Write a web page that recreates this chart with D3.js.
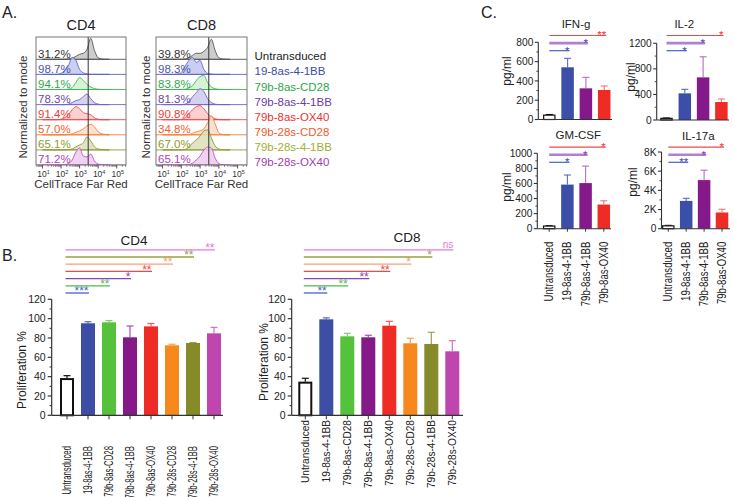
<!DOCTYPE html>
<html><head><meta charset="utf-8">
<script src="https://cdn.jsdelivr.net/npm/d3@7"></script>
<style>
body{margin:0;background:#fff;}
svg{display:block;font-family:"Liberation Sans",Arial,Helvetica,sans-serif;}
</style></head><body>
<svg id="c" width="734" height="497"></svg>
<script>
// ---------------- DATA ----------------
const groups = ["Untransduced","19-8as-4-1BB","79b-8as-CD28","79b-8as-4-1BB","79b-8as-OX40","79b-28s-CD28","79b-28s-4-1BB","79b-28s-OX40"];
// histogram bins (log10 CellTrace Far Red)
const histLog = [1.0,1.2,1.4,1.6,1.8,2.0,2.2,2.4,2.6,2.8,3.0,3.2,3.4,3.6,3.8,4.0,4.2,4.4,4.6];
const gateValue = 2900;
const cd4Hist = [
  [0,0,0,0,0,0,0,0.5,1,3,5,6,10,21,9,1.5,0.3,0,0],
  [0,0,0,0,0,1,4,9,17,14,5,1.5,0.5,0,0,0,0,0,0],
  [0,0,0,0,0,0,0,0.5,2,7,12,9,5,2.5,1,0.3,0,0,0],
  [0,0,0,0,0,0,0,0.5,2,4,5,8,10.5,6,2,0.5,0,0,0],
  [0,0,0,0,0,0.5,2,5,10,13,11,7,6,5,2,0.5,0,0,0],
  [0,0,0,0,0,0,0,0.3,1,2.5,4,6,9,10.5,8,3,1,0.3,0],
  [0,0,0,0,0,0,0,0.3,1,3,5,7,13,9,3,1,0.3,0,0],
  [0,0,0,0,0,0,0.3,1.5,5,13,17,9,8,11,4,1,0.3,0,0]
];
const cd8Hist = [
  [0,0,0,0,0,0,0.3,1.5,4,6,6,8,12,20,9,1.5,0.3,0,0],
  [0,0,0,0,0.3,2,8,14,17,12,14,5,1,0.3,0,0,0,0,0],
  [0,0,0,0,0,0,0.3,1.5,4,9,13,14,7,2.5,0.8,0.2,0,0,0],
  [0,0,0,0,0,0,0.5,3,8,12,16,13,6,2,0.5,0,0,0,0],
  [0,0,0,0,0,0.3,2,6,10,13,14,11,6,3,1,0.2,0,0,0],
  [0,0,0,0,0,0,0,0.3,1.5,3,4,6,12,19,11,2,0.3,0,0],
  [0,0,0,0,0,0,0.5,3,7,10,14,19,20,12,4,1,0.2,0,0],
  [0,0,0,0,0,0,0,0.3,2,5,9,15,18,17,7,1.5,0.2,0,0]
];
const cd4Pct = ["31.2%","98.7%","94.1%","78.3%","91.4%","57.0%","65.1%","71.2%"];
const cd8Pct = ["39.8%","98.3%","83.8%","81.3%","90.8%","34.8%","67.0%","65.1%"];
const logTicks = [1,2,3,4,5];

// proliferation %
const cd4Prolif    = [38.5, 95.2, 96.2, 80.7, 92.0, 72.4, 74.8, 84.8];
const cd4ProlifErr = [41.0, 96.8, 98.0, 92.4, 95.0, 73.5, 75.2, 91.0];
const cd8Prolif    = [34.8, 99.3, 81.7, 80.7, 92.7, 74.5, 73.8, 66.2];
const cd8ProlifErr = [38.3, 100.8, 84.8, 82.8, 97.2, 79.7, 85.9, 77.2];
const cd4Sig = ["***","**","*","**","**","**","**"];
const cd8Sig = ["**","**","**","**","*","*","ns"];
const prolifTicks = [0,20,40,60,80,100,120];

// cytokines (pg/ml)
const cytoGroups = ["Untransduced","19-8as-4-1BB","79b-8as-4-1BB","79b-8as-OX40"];
const ifng = [45, 541, 323, 306];      const ifngErr = [52, 634, 437, 347];
const il2 = [26, 417, 667, 281];       const il2Err = [32, 480, 989, 328];
const gmcsf = [35, 585, 605, 320];     const gmcsfErr = [40, 712, 830, 370];
const il17a = [300, 2900, 5070, 1690]; const il17aErr = [350, 3170, 6100, 2030];
const ifngSig = ["*","*","**"];
const il2Sig = ["*","*","*"];
const gmcsfSig = ["*","*","*"];
const il17aSig = ["**","*","*"];
const ifngTicks = [0,200,400,600,800];
const il2Ticks = [0,400,800,1200];
const gmcsfTicks = [0,200,400,600,800,1000];
const il17aTicks = [0,2000,4000,6000,8000];

// ---------------- STYLE ----------------
const barColors  = ["#ffffff","#3c4fa5","#55c23c","#86198a","#ee2b25","#f7881d","#868a29","#bf46ae"];
const errColors  = ["#111111","#5a6ac0","#7ad266","#a050b0","#f05a50","#f9a050","#9ea050","#d070c8"];
const histStroke = ["#555555","#5b64c4","#3fb94e","#7464c4","#f04848","#f5803a","#8f9a34","#c552c5"];
const histFill   = ["#c4c4c4","#c2c6ee","#cff1d0","#cfc9ee","#fbc8c8","#fcdcc3","#dcdfba","#eecaef"];
const textColors = ["#333333","#4b55b2","#2ea94a","#6b48aa","#f03a3a","#f2602c","#8e9c2c","#b042b8"];
const legColors  = ["#222222","#3a4aa8","#2aa84a","#6a3aa8","#f03030","#f05a30","#a0b030","#a040b0"];
const sigColors  = ["#4a5fc8","#4cbb4c","#8d40b5","#f04848","#f8a070","#9aa040","#e17ae0"];
const cytoColors = ["#ffffff","#3c4fa8","#86198a","#ee2b25"];
const cytoErrColors = ["#111111","#5a6ac0","#b070c0","#f07070"];
const cytoSigColors = ["#4a5fc8","#b27ed6","#f04848"];
const cytoSigWidths = [1.2, 2.6, 1.2];

const svg = d3.select("#c");

function txt(x, y, s, size, opts = {}) {
  const t = svg.append("text").attr("x", x).attr("y", y).attr("font-size", size)
    .attr("fill", opts.fill || "#222").attr("text-anchor", opts.anchor || "start").text(s);
  return t;
}
function rtxt(cx, cy, s, size, opts = {}) {
  return svg.append("text").attr("transform", `translate(${cx},${cy}) rotate(-90)` + (opts.sx ? ` scale(${opts.sx},1)` : ""))
    .attr("font-size", size).attr("fill", opts.fill || "#222")
    .attr("text-anchor", opts.anchor || "middle").text(s);
}

// ---------------- PANEL LETTERS ----------------
txt(2, 18, "A.", 16);
txt(2, 261, "B.", 16);
txt(481, 18, "C.", 16);

// ---------------- PANEL A ----------------
const boxTop = 37, boxBottom = 165, rowH = 15.1;
function histPanel(x0, x1, title, hist, pcts, ylabX, id) {
  const xs = d3.scaleLog().domain([Math.pow(10,0.65), Math.pow(10,5.5)]).range([x0, x1]);
  const hs = d3.scaleLinear().domain([0, 20]).range([0, 20]);
  svg.append("clipPath").attr("id", id).append("rect")
    .attr("x", x0).attr("y", boxTop).attr("width", x1 - x0).attr("height", boxBottom - boxTop);
  const g = svg.append("g").attr("clip-path", `url(#${id})`);
  hist.forEach((vals, i) => {
    const base = boxBottom - (hist.length - 1 - i) * rowH;
    const area = d3.area()
      .x((d, j) => xs(Math.pow(10, histLog[j])))
      .y0(base).y1(d => base - hs(d))
      .curve(d3.curveMonotoneX);
    g.append("path").datum(vals).attr("d", area)
      .attr("fill", histFill[i]).attr("fill-opacity", 0.85)
      .attr("stroke", histStroke[i]).attr("stroke-width", 0.9);
    g.append("line").attr("x1", x0).attr("x2", x1).attr("y1", base).attr("y2", base)
      .attr("stroke", histStroke[i]).attr("stroke-width", 0.9);
  });
  g.append("line").attr("x1", xs(gateValue)).attr("x2", xs(gateValue))
    .attr("y1", boxTop).attr("y2", boxBottom).attr("stroke", "#333").attr("stroke-width", 1);
  pcts.forEach((p, i) => {
    const base = boxBottom - (hist.length - 1 - i) * rowH;
    txt(x0 + 2, base - 1.8, p, 11.5, { fill: textColors[i] });
  });
  svg.append("rect").attr("x", x0).attr("y", boxTop).attr("width", x1 - x0).attr("height", boxBottom - boxTop)
    .attr("fill", "none").attr("stroke", "#777").attr("stroke-width", 1);
  for (let k = 0; k <= 5; k++) {
    for (let m = 2; m <= 9; m++) {
      const v = m * Math.pow(10, k);
      if (v > xs.domain()[0] && v < xs.domain()[1]) {
        svg.append("line").attr("x1", xs(v)).attr("x2", xs(v)).attr("y1", boxBottom).attr("y2", boxBottom + 1.8)
          .attr("stroke", "#555").attr("stroke-width", 0.7);
      }
    }
  }
  logTicks.forEach(k => {
    const tx = xs(Math.pow(10, k));
    svg.append("line").attr("x1", tx).attr("x2", tx).attr("y1", boxBottom).attr("y2", boxBottom + 3.5)
      .attr("stroke", "#444").attr("stroke-width", 0.9);
    const t = svg.append("text").attr("x", tx + 1).attr("y", 177).attr("text-anchor", "middle")
      .attr("font-size", 8.5).attr("fill", "#333");
    t.append("tspan").text("10");
    t.append("tspan").attr("dy", -3.5).attr("font-size", 5.5).text(k);
  });
  txt((x0 + x1) / 2, 188, "CellTrace Far Red", 11.5, { anchor: "middle", fill: "#333" });
  txt((x0 + x1) / 2, 30, title, 14.5, { anchor: "middle" });
  rtxt(ylabX, 107, "Normalized to mode", 11.5, { fill: "#333" });
}
histPanel(36, 126, "CD4", cd4Hist, cd4Pct, 27, "clipCD4");
histPanel(156, 247, "CD8", cd8Hist, cd8Pct, 150, "clipCD8");
groups.forEach((gname, i) => {
  const base = boxBottom - (groups.length - 1 - i) * rowH;
  txt(254.5, base + 1, gname, 11.5, { fill: legColors[i] });
});

// ---------------- PANEL B ----------------
function prolifChart(o) {
  const y = d3.scaleLinear().domain([0, 120]).range([415.3, 299.3]);
  const x = d3.scalePoint().domain(groups).range([o.firstX, o.firstX + 7 * 21]);
  const bw = 14;
  groups.forEach((gname, i) => {
    const cx = x(gname), v = o.vals[i], e = o.errs[i];
    svg.append("line").attr("x1", cx).attr("x2", cx).attr("y1", y(v)).attr("y2", y(e))
      .attr("stroke", errColors[i]).attr("stroke-width", 1.2);
    svg.append("line").attr("x1", cx - 3.5).attr("x2", cx + 3.5).attr("y1", y(e)).attr("y2", y(e))
      .attr("stroke", errColors[i]).attr("stroke-width", 1.2);
    if (i === 0) {
      svg.append("rect").attr("x", cx - bw / 2 + 1).attr("y", y(v) + 1).attr("width", bw - 2).attr("height", y(0) - y(v) - 1)
        .attr("fill", "#fff").attr("stroke", "#111").attr("stroke-width", 2);
    } else {
      svg.append("rect").attr("x", cx - bw / 2).attr("y", y(v)).attr("width", bw).attr("height", y(0) - y(v))
        .attr("fill", barColors[i]);
    }
    svg.append("line").attr("x1", cx).attr("x2", cx).attr("y1", y(0)).attr("y2", y(0) + 4)
      .attr("stroke", "#333").attr("stroke-width", 1);
    rtxt(cx + 4, o.labelTop, gname, o.labelSize, { anchor: "end", sx: o.labelScale, fill: "#222" });
  });
  svg.append("line").attr("x1", o.axisX).attr("x2", o.axisEnd).attr("y1", y(0)).attr("y2", y(0))
    .attr("stroke", "#333").attr("stroke-width", 1.2);
  svg.append("line").attr("x1", o.axisX).attr("x2", o.axisX).attr("y1", y(0)).attr("y2", y(120))
    .attr("stroke", "#333").attr("stroke-width", 1.2);
  prolifTicks.forEach(t => {
    svg.append("line").attr("x1", o.axisX - 4).attr("x2", o.axisX).attr("y1", y(t)).attr("y2", y(t))
      .attr("stroke", "#333").attr("stroke-width", 1.2);
    txt(o.axisX - 6, y(t) + 3.7, String(t), 10.5, { anchor: "end" });
    if (t < 120) {
      svg.append("line").attr("x1", o.axisX - 2.2).attr("x2", o.axisX).attr("y1", y(t + 10)).attr("y2", y(t + 10))
        .attr("stroke", "#333").attr("stroke-width", 1);
    }
  });
  rtxt(o.ylabX, o.ylabY, "Proliferation %", 12, { fill: "#222" });
  txt(o.titleX, o.titleY, o.title, 13.5, { anchor: "middle" });
  o.sig.forEach((s, k) => {
    const i = k + 1;
    const yy = 293 - k * 7.2;
    const xa = x(groups[0]) - 1.5, xb = x(groups[i]) + 1;
    svg.append("line").attr("x1", xa).attr("x2", xb).attr("y1", yy).attr("y2", yy)
      .attr("stroke", sigColors[k]).attr("stroke-width", 1.3);
    if (s === "ns") txt(xb, yy - 1.5, s, 10, { anchor: "end", fill: sigColors[k] });
    else txt(xb - 0.5, yy + 2.2, s, 12, { anchor: "end", fill: sigColors[k] });
  });
}
prolifChart({ firstX: 67, axisX: 51.7, axisEnd: 223, vals: cd4Prolif, errs: cd4ProlifErr, sig: cd4Sig,
  labelTop: 446, labelSize: 12, labelScale: 0.65, ylabX: 26, ylabY: 370, title: "CD4", titleX: 134, titleY: 245 });
prolifChart({ firstX: 305.3, axisX: 291.7, axisEnd: 463, vals: cd8Prolif, errs: cd8ProlifErr, sig: cd8Sig,
  labelTop: 420, labelSize: 11.5, labelScale: 0.88, ylabX: 267.5, ylabY: 362, title: "CD8", titleX: 407, titleY: 242 });

// ---------------- PANEL C ----------------
function cytoChart(o) {
  const y = d3.scaleLinear().domain([0, o.ticks[o.ticks.length - 1]]).range([o.yBottom, o.yTop]);
  const x = d3.scalePoint().domain(cytoGroups).range([o.firstX, o.firstX + 3 * o.step]);
  const bw = 12.5;
  cytoGroups.forEach((gname, i) => {
    const cx = x(gname), v = o.vals[i], e = o.errs[i];
    svg.append("line").attr("x1", cx).attr("x2", cx).attr("y1", y(v)).attr("y2", y(e))
      .attr("stroke", cytoErrColors[i]).attr("stroke-width", 1.1);
    svg.append("line").attr("x1", cx - 3.5).attr("x2", cx + 3.5).attr("y1", y(e)).attr("y2", y(e))
      .attr("stroke", cytoErrColors[i]).attr("stroke-width", 1.1);
    if (i === 0) {
      svg.append("rect").attr("x", cx - bw / 2 + 0.6).attr("y", y(v)).attr("width", bw - 1.2).attr("height", Math.max(0.5, y(0) - y(v)))
        .attr("fill", "#fff").attr("stroke", "#111").attr("stroke-width", 1.2);
    } else {
      svg.append("rect").attr("x", cx - bw / 2).attr("y", y(v)).attr("width", bw).attr("height", y(0) - y(v))
        .attr("fill", cytoColors[i]);
    }
    if (o.labels) {
      svg.append("line").attr("x1", cx).attr("x2", cx).attr("y1", y(0)).attr("y2", y(0) + 3)
        .attr("stroke", "#333").attr("stroke-width", 1);
      rtxt(cx + 4, 241.7, gname, 12, { anchor: "end", sx: 0.8, fill: "#222" });
    }
  });
  svg.append("line").attr("x1", o.axisX).attr("x2", o.axisEnd).attr("y1", y(0)).attr("y2", y(0))
    .attr("stroke", "#333").attr("stroke-width", 1.1);
  svg.append("line").attr("x1", o.axisX).attr("x2", o.axisX).attr("y1", y(0)).attr("y2", y.range()[1])
    .attr("stroke", "#333").attr("stroke-width", 1.1);
  o.ticks.forEach((t, k) => {
    svg.append("line").attr("x1", o.axisX - 3.5).attr("x2", o.axisX).attr("y1", y(t)).attr("y2", y(t))
      .attr("stroke", "#333").attr("stroke-width", 1.1);
    txt(o.axisX - 5, y(t) + 3.6, o.fmt(t), 10.2, { anchor: "end" });
    if (k < o.ticks.length - 1) {
      const mid = (t + o.ticks[k + 1]) / 2;
      svg.append("line").attr("x1", o.axisX - 2).attr("x2", o.axisX).attr("y1", y(mid)).attr("y2", y(mid))
        .attr("stroke", "#333").attr("stroke-width", 0.9);
    }
  });
  rtxt(o.ylabX, o.ylabY, "pg/ml", 12, { fill: "#222" });
  txt(o.titleX, o.titleY, o.title, 11.5, { anchor: "middle" });
  o.sig.forEach((s, k) => {
    const i = k + 1;
    const yy = o.sigBase - k * 7.6;
    const xa = x(cytoGroups[0]), xb = x(cytoGroups[i]) + 2;
    svg.append("line").attr("x1", xa).attr("x2", xb).attr("y1", yy).attr("y2", yy)
      .attr("stroke", cytoSigColors[k]).attr("stroke-width", cytoSigWidths[k]);
    txt(xb, yy + 3.8, s, 11.5, { anchor: "end", fill: o.starColors[k] });
  });
}
const fmtPlain = d => String(d);
const fmtK = d => d === 0 ? "0" : (d / 1000) + "K";
cytoChart({ title: "IFN-g", titleX: 576, titleY: 28, axisX: 538.3, axisEnd: 612, firstX: 549.3, step: 18.3,
  yBottom: 119.5, yTop: 42.3, ticks: ifngTicks, fmt: fmtPlain, vals: ifng, errs: ifngErr, sig: ifngSig,
  sigBase: 50.7, starColors: ["#3a48b8", "#3a48b8", "#f03030"], ylabX: 511, ylabY: 71, labels: false });
cytoChart({ title: "IL-2", titleX: 684.3, titleY: 28, axisX: 656.7, axisEnd: 729, firstX: 666.5, step: 18.3,
  yBottom: 120, yTop: 43.3, ticks: il2Ticks, fmt: fmtPlain, vals: il2, errs: il2Err, sig: il2Sig,
  sigBase: 50.7, starColors: ["#3a48b8", "#3a48b8", "#f03030"], ylabX: 634.5, ylabY: 77, labels: false });
cytoChart({ title: "GM-CSF", titleX: 578.3, titleY: 139, axisX: 537.3, axisEnd: 611, firstX: 549.2, step: 18.2,
  yBottom: 228.7, yTop: 153.3, ticks: gmcsfTicks, fmt: fmtPlain, vals: gmcsf, errs: gmcsfErr, sig: gmcsfSig,
  sigBase: 162.3, starColors: ["#3a48b8", "#8a30b0", "#f03030"], ylabX: 510.5, ylabY: 187, labels: true });
cytoChart({ title: "IL-17a", titleX: 698.3, titleY: 140, axisX: 661.5, axisEnd: 730, firstX: 668.3, step: 17.9,
  yBottom: 228.7, yTop: 152, ticks: il17aTicks, fmt: fmtK, vals: il17a, errs: il17aErr, sig: il17aSig,
  sigBase: 162.3, starColors: ["#3a48b8", "#8a30b0", "#f03030"], ylabX: 636.5, ylabY: 182, labels: true });
</script></body></html>
